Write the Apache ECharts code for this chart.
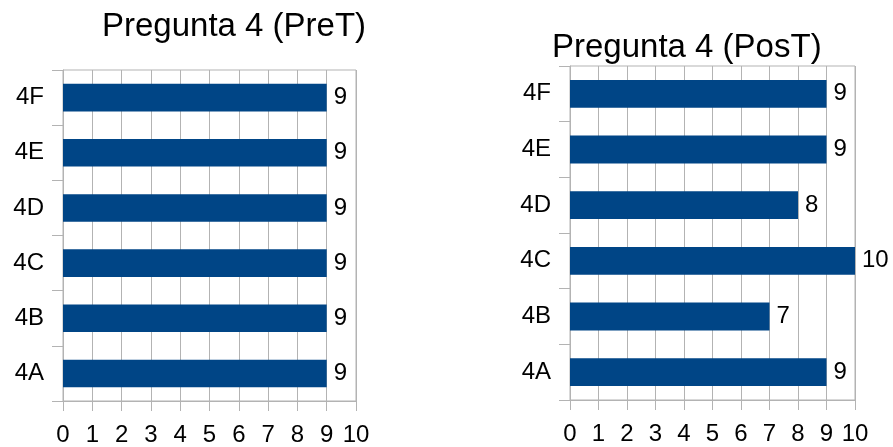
<!DOCTYPE html>
<html>
<head>
<meta charset="utf-8">
<script src="https://cdn.jsdelivr.net/npm/echarts@6/dist/echarts.min.js"></script>
<style>
  html, body { margin: 0; padding: 0; background: #fff; }
  #chart { width: 893px; height: 447px; }
</style>
</head>
<body>
<div id="chart"></div>
<script>
// Categories (bottom to top) and answer counts per group
const categories = ['4A', '4B', '4C', '4D', '4E', '4F'];
const preValues = [9, 9, 9, 9, 9, 9];
const postValues = [9, 7, 10, 8, 9, 9];
const titles = ['Pregunta 4 (PreT)', 'Pregunta 4 (PosT)'];
const xTicks = { min: 0, max: 10, interval: 1 };

const FONT = 'Liberation Sans';
const GREY = '#b3b3b3';
const BAR = '#004586';

function xAxisFor(gridIndex) {
  return {
    type: 'value',
    gridIndex: gridIndex,
    min: xTicks.min,
    max: xTicks.max,
    interval: xTicks.interval,
    axisLine: { show: true, lineStyle: { color: GREY, width: 1 } },
    axisTick: { show: true, length: 10, lineStyle: { color: GREY } },
    splitLine: { show: true, lineStyle: { color: GREY, width: 1 } },
    axisLabel: { color: '#000', fontFamily: FONT, fontSize: 24, margin: 22 }
  };
}

function yAxisFor(gridIndex) {
  return {
    type: 'category',
    gridIndex: gridIndex,
    data: categories,
    axisLine: { show: true, lineStyle: { color: GREY, width: 1 } },
    axisTick: { show: true, length: 11, lineStyle: { color: GREY } },
    splitLine: { show: false },
    axisLabel: { color: '#000', fontFamily: FONT, fontSize: 24, margin: 19 }
  };
}

function seriesFor(idx, values) {
  return {
    type: 'bar',
    xAxisIndex: idx,
    yAxisIndex: idx,
    data: values,
    barWidth: '50%',
    itemStyle: { color: BAR },
    label: {
      show: true,
      position: 'right',
      distance: 7,
      color: '#000',
      fontFamily: FONT,
      fontSize: 24
    },
    silent: true
  };
}

const titleStyle = { fontFamily: FONT, fontSize: 33, fontWeight: 'normal', color: '#000' };

const chart = echarts.init(document.getElementById('chart'), null, { renderer: 'canvas' });
chart.setOption({
  animation: false,
  backgroundColor: '#fff',
  title: [
    { text: titles[0], left: 102, top: 10, padding: 0, textStyle: titleStyle },
    { text: titles[1], left: 552, top: 31, padding: 0, textStyle: titleStyle }
  ],
  grid: [
    { left: 63, width: 293, top: 70, height: 332, show: true, borderColor: GREY, borderWidth: 1, backgroundColor: 'transparent' },
    { left: 570, width: 285, top: 66, height: 334, show: true, borderColor: GREY, borderWidth: 1, backgroundColor: 'transparent' }
  ],
  xAxis: [xAxisFor(0), xAxisFor(1)],
  yAxis: [yAxisFor(0), yAxisFor(1)],
  series: [seriesFor(0, preValues), seriesFor(1, postValues)]
});
</script>
</body>
</html>
